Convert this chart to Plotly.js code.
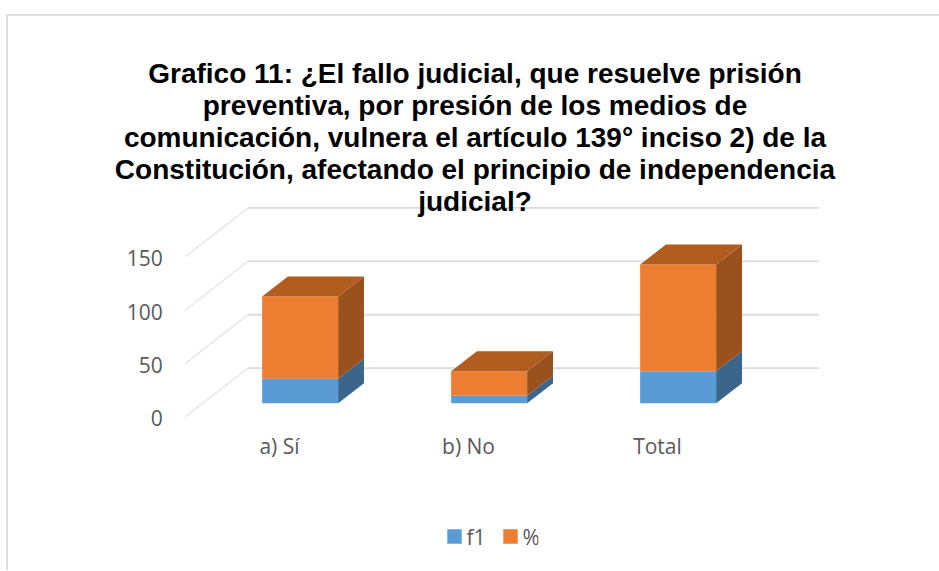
<!DOCTYPE html>
<html>
<head>
<meta charset="utf-8">
<script src="https://cdn.plot.ly/plotly-3.0.1.min.js"></script>
<style>html,body{margin:0;padding:0;background:#fff;overflow:hidden}#chart{width:939px;height:571px}</style>
</head>
<body>
<div id="chart"></div>
<script>
const categories = ["a) Sí", "b) No", "Total"];
const f1Values = [23, 7, 30];
const pctValues = [77, 23, 100];
const yTicks = [0, 50, 100, 150];
const titleText = "Grafico 11: ¿El fallo judicial, que resuelve prisión<br>preventiva, por presión de los medios de<br>comunicación, vulnera el artículo 139° inciso 2) de la<br>Constitución, afectando el principio de independencia<br>judicial?";

// oblique projection of the 3-D columns, expressed in axis units
const W = 939, H = 571;
const M = {l:185, r:114, t:195, b:153.5};
const pxX = 189, pxY = 1.07;
const plotW = W - M.l - M.r, plotH = H - M.t - M.b;
const xr = [-0.5, -0.5 + plotW / pxX];
const yr = [0, plotH / pxY];
const depthX = 63 / pxX, depthY = 49 / pxY;
const dFront = 0.28, dBack = 0.69, barW = 76 / pxX, barShift = 3 / pxX;
const wallEnd = xr[0] + (819 - M.l) / pxX;
const project = (x, y, d) => [x + d * depthX, y + d * depthY];

function poly(pts, color) {
  return {type:'scatter', mode:'lines', x:pts.map(p=>p[0]).concat(pts[0][0]), y:pts.map(p=>p[1]).concat(pts[0][1]),
    fill:'toself', fillcolor:color, line:{width:0, color:color}, showlegend:false, hoverinfo:'skip'};
}
function sideFace(i, y0, y1, color) {
  const xR = i + barShift + barW / 2;
  return poly([project(xR,y0,dFront), project(xR,y0,dBack), project(xR,y1,dBack), project(xR,y1,dFront)], color);
}
function topFace(i, y, color) {
  const a = i + barShift - barW / 2, b = i + barShift + barW / 2;
  return poly([project(a,y,dFront), project(b,y,dFront), project(b,y,dBack), project(a,y,dBack)], color);
}

const idx = categories.map((_, i) => i);
const frontX = idx.map(i => project(i + barShift, 0, dFront)[0]);
const floorY = project(0, 0, dFront)[1];
const traces = [
  {type:'bar', name:'f1', x:frontX, y:f1Values, base:f1Values.map(()=>floorY), width:barW,
   marker:{color:'#5b9bd5', line:{width:0}}, hoverinfo:'skip'},
  {type:'bar', name:'%', x:frontX, y:pctValues, base:f1Values.map(v=>floorY+v), width:barW,
   marker:{color:'#ed7d31', line:{width:0}}, hoverinfo:'skip'}
];
idx.forEach(i => {
  traces.push(sideFace(i, 0, f1Values[i], '#3c658c'));
  traces.push(sideFace(i, f1Values[i], f1Values[i] + pctValues[i], '#99521d'));
  traces.push(topFace(i, f1Values[i] + pctValues[i], '#b25d20'));
});

const shapes = [];
yTicks.forEach(v => {
  const back = project(xr[0], v, 1);
  shapes.push({type:'line', xref:'x', yref:'y', layer:'below', x0:xr[0], y0:v, x1:back[0], y1:back[1], line:{color:'#e4e4e4', width:1.3}});
  shapes.push({type:'line', xref:'x', yref:'y', layer:'below', x0:back[0], y0:back[1], x1:wallEnd, y1:back[1], line:{color:'#dcdcdc', width:1.8}});
});
// chart frame
const fx = p => (p - M.l) / plotW, fy = p => 1 - (p - M.t) / plotH;
shapes.push({type:'line', xref:'paper', yref:'paper', x0:fx(7), y0:fy(14.5), x1:fx(939), y1:fy(14.5), line:{color:'#dedede', width:2}});
shapes.push({type:'line', xref:'paper', yref:'paper', x0:fx(7), y0:fy(14.5), x1:fx(7), y1:fy(571), line:{color:'#dedede', width:2}});

const axisFont = {family:'"Open Sans", sans-serif', size:21, color:'#595959'};
const layout = {
  width:W, height:H, margin:M, paper_bgcolor:'#fff', plot_bgcolor:'rgba(0,0,0,0)',
  barmode:'overlay', showlegend:true,
  title:{text:titleText, font:{family:'"Liberation Sans", Arial, sans-serif', size:28, color:'#000', weight:700},
    x:475/W, xanchor:'center', y:1-55/H, yanchor:'top', automargin:false},
  xaxis:{range:xr, tickmode:'array', tickvals:idx, ticktext:categories, showgrid:false, zeroline:false, showline:false,
    ticks:'outside', ticklen:11, tickcolor:'rgba(0,0,0,0)', tickfont:axisFont, fixedrange:true},
  yaxis:{range:yr, tickmode:'array', tickvals:yTicks, showgrid:false, zeroline:false, showline:false,
    ticks:'outside', ticklen:17, tickcolor:'rgba(0,0,0,0)', tickfont:axisFont, ticklabelshift:2, fixedrange:true},
  legend:{orientation:'h', x:(482.5-M.l)/plotW, xanchor:'center', y:1-(517-M.t)/plotH, yanchor:'top',
    font:axisFont, bgcolor:'rgba(0,0,0,0)', entrywidth:11, entrywidthmode:'pixels'},
  shapes:shapes
};
Plotly.newPlot('chart', traces, layout, {displayModeBar:false, staticPlot:true}).then(() => {
  // tighter title leading, as in the reference
  const t = document.querySelector('.gtitle');
  if (t) {
    t.setAttribute('y', 82.7);
    t.querySelectorAll('tspan.line').forEach((s, i) => { s.setAttribute('y', 82.7); s.setAttribute('dy', (i * 32) + 'px'); });
  }
  // larger legend swatches sitting nearer their text
  document.querySelectorAll('.legend .legendpoints path').forEach(p => {
    p.setAttribute('transform', 'translate(28,0) scale(1.2)');
  });
});
</script>
</body>
</html>
